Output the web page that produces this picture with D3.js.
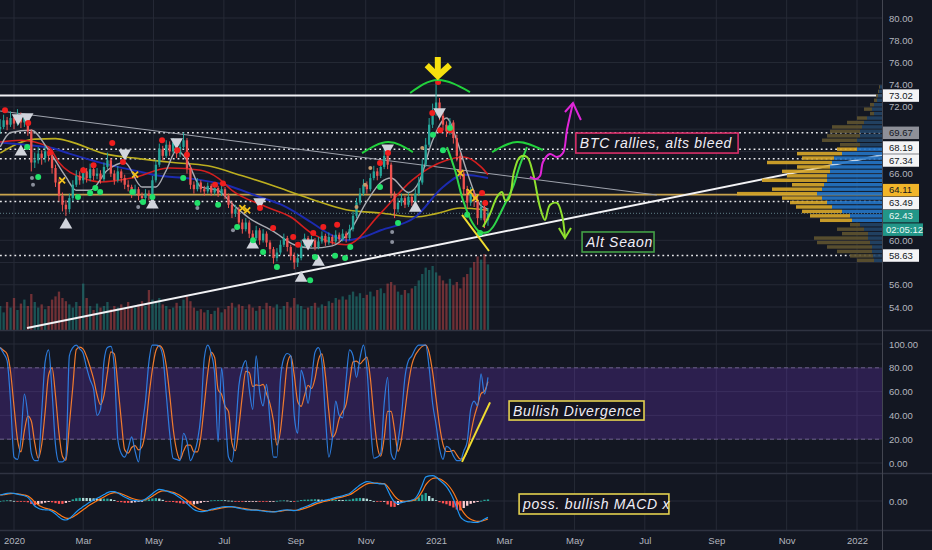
<!DOCTYPE html>
<html><head><meta charset="utf-8">
<script src="https://cdn.jsdelivr.net/npm/d3@7"></script>
<style>
html,body{margin:0;padding:0;background:#131722;overflow:hidden}
svg{display:block}
text{font-family:"Liberation Sans",Arial,sans-serif}
</style></head><body>
<svg id="c" width="932" height="550"></svg>
<script>
// ---------------- DATA ----------------
const startDate = "2019-12-20";
const barStepDays = 3;
const firstOpen = 70.0;
const closes = [70.2,70.8,70.4,71.0,70.5,71.2,70.6,71.0,69.8,67.0,
 67.2,67.8,67.4,68.0,67.6,66.5,65.2,64.0,63.2,62.8,
 63.8,65.0,65.8,65.4,66.2,65.6,66.4,65.8,66.0,65.5,
 66.6,67.2,66.0,65.4,66.2,65.6,65.0,64.8,64.2,64.6,
 64.0,63.8,64.2,64.0,65.4,66.8,68.2,67.6,68.6,68.0,
 68.8,67.8,68.4,69.0,66.5,65.0,64.6,65.2,64.6,64.4,
 64.9,64.3,64.7,64.2,64.6,64.0,63.2,62.4,62.8,61.6,
 61.0,61.6,60.6,60.2,60.9,60.0,60.6,59.8,59.2,58.4,
 58.9,59.6,60.2,59.4,58.6,58.0,58.4,59.6,60.2,59.6,
 60.0,59.4,59.9,60.4,59.8,60.3,59.9,60.5,60.1,60.6,
 60.2,61.0,62.2,63.4,64.2,65.0,64.6,65.6,66.2,65.8,
 66.6,67.6,66.8,64.2,62.8,63.4,63.8,63.2,63.9,63.4,
 64.2,65.2,66.8,68.6,70.4,71.6,72.4,71.2,70.4,69.8,
 70.6,69.2,67.6,66.0,64.6,63.4,64.2,63.6,62.0,63.0,
 61.8,62.43];
const highs = [70.9,71.3,71.1,71.6,71.3,71.8,71.5,71.4,71.2,70.0,
 67.9,68.4,68.1,68.5,68.3,67.8,66.8,65.5,64.3,63.6,
 64.2,65.4,66.3,66.2,66.6,66.5,66.9,66.6,66.5,66.3,
 67.0,67.9,67.4,66.3,66.7,66.4,65.9,65.4,65.0,65.0,
 64.8,64.3,64.6,64.5,65.8,67.2,68.7,68.5,69.0,68.9,
 69.2,69.0,68.8,69.7,69.2,66.8,65.3,65.6,65.4,64.9,
 65.2,65.1,65.0,64.9,64.9,64.8,64.2,63.5,63.2,63.0,
 61.9,62.0,61.8,60.9,61.3,61.1,61.0,60.8,60.0,59.4,
 59.3,60.0,60.6,60.4,59.6,58.9,58.8,60.0,60.6,60.4,
 60.4,60.2,60.3,60.8,60.6,60.7,60.5,60.9,60.7,61.0,
 60.8,61.4,62.6,63.8,64.7,65.5,65.3,66.0,66.7,66.5,
 67.1,68.3,67.9,67.0,64.4,63.8,64.2,64.0,64.3,64.1,
 64.6,65.7,67.3,69.2,71.0,72.3,74.2,72.8,71.6,70.7,
 71.0,70.8,69.5,67.9,66.3,64.9,64.8,64.5,63.9,63.5,
 63.2,62.9];
const lows = [69.6,70.0,69.9,70.2,70.0,70.3,70.1,70.2,69.4,66.2,
 66.5,66.9,66.8,67.0,67.1,66.0,64.8,63.5,62.6,62.2,
 62.5,63.5,64.8,65.0,65.1,65.2,65.3,65.4,65.5,65.1,
 65.3,66.4,65.7,65.0,65.2,65.2,64.6,64.4,63.8,64.0,
 63.6,63.3,63.5,63.6,63.8,65.2,66.6,67.2,67.4,67.6,
 67.8,67.4,67.5,68.2,66.0,64.6,64.2,64.4,64.3,64.0,
 64.2,64.0,64.1,63.9,64.0,63.7,62.9,62.0,62.1,61.2,
 60.6,60.8,60.2,59.8,60.0,59.6,59.8,59.4,58.8,57.9,
 58.1,58.7,59.4,59.0,58.2,57.4,57.6,58.2,59.4,59.2,
 59.4,59.1,59.2,59.7,59.5,59.6,59.6,59.7,59.8,59.9,
 59.8,60.0,60.8,62.0,63.2,64.0,64.2,64.4,65.4,65.4,
 65.6,66.4,66.4,63.8,62.0,62.5,63.1,62.9,63.0,63.1,
 63.2,64.0,65.0,66.6,68.4,70.1,71.2,70.8,69.9,69.3,
 69.5,68.7,67.1,65.5,64.1,62.8,63.1,63.0,61.4,61.8,
 61.1,61.3];
const volumes = [30,22,35,28,40,25,33,38,30,45,
 35,28,32,26,30,38,42,48,40,36,
 32,28,35,30,58,40,30,25,33,28,
 30,35,26,30,28,32,26,35,30,28,
 32,36,30,50,38,34,40,32,30,26,
 28,34,30,38,42,36,28,24,26,22,
 25,20,24,28,22,26,30,34,28,32,
 30,26,32,28,24,30,26,34,30,28,
 32,26,30,35,28,40,32,30,26,28,
 30,34,28,32,30,36,34,40,38,42,
 38,44,48,42,46,40,44,48,42,50,
 52,46,58,60,56,48,44,50,46,52,
 55,62,70,78,75,80,72,68,62,58,
 64,56,60,52,66,70,78,85,92,88,
 95,82];
const stochK = [97,92,86,52,5,3,20,58,40,8,
 2,2,42,85,95,60,15,1,1,5,
 90,97,99,96,92,80,70,62,40,45,
 85,97,98,80,20,8,5,12,22,10,
 1,30,52,85,99,99,98,90,58,25,
 4,3,2,25,18,2,8,18,40,88,
 99,92,75,18,80,45,5,1,25,65,
 80,86,62,45,90,60,48,66,35,5,
 5,70,88,92,90,40,25,78,68,50,
 70,93,97,85,40,5,20,52,40,38,
 70,95,90,72,88,99,80,35,4,5,
 8,50,72,8,3,18,40,72,86,90,
 96,99,99,99,80,50,32,12,3,14,
 12,6,2,2,10,18,45,52,48,75,
 58,72];
const macdLine = [0.30,0.34,0.38,0.40,0.38,0.34,0.30,0.26,0.18,-0.02,
 -0.25,-0.36,-0.42,-0.44,-0.45,-0.52,-0.65,-0.80,-0.92,-0.95,
 -0.88,-0.72,-0.55,-0.40,-0.28,-0.16,-0.05,0.05,0.14,0.22,
 0.32,0.42,0.47,0.47,0.40,0.30,0.20,0.12,0.05,0.02,
 0.00,0.02,0.10,0.22,0.36,0.50,0.58,0.56,0.50,0.44,
 0.38,0.28,0.16,0.02,-0.12,-0.28,-0.42,-0.50,-0.53,-0.52,
 -0.48,-0.42,-0.38,-0.34,-0.30,-0.28,-0.28,-0.28,-0.32,-0.36,
 -0.40,-0.43,-0.45,-0.46,-0.46,-0.48,-0.50,-0.53,-0.54,-0.55,
 -0.52,-0.48,-0.45,-0.44,-0.46,-0.48,-0.45,-0.37,-0.30,-0.24,
 -0.16,-0.08,-0.03,0.01,0.04,0.08,0.13,0.18,0.22,0.26,
 0.32,0.38,0.52,0.66,0.80,0.90,0.97,0.95,0.90,0.88,
 0.86,0.85,0.55,0.20,-0.05,-0.12,-0.08,-0.04,0.00,0.05,
 0.13,0.40,0.80,1.20,1.26,1.27,1.20,1.05,0.90,0.72,
 0.45,0.10,-0.35,-0.78,-0.95,-1.03,-1.05,-1.07,-1.07,-1.00,
 -0.90,-0.82];

// moving averages: [bar index, value]
const maYellow = [[0,67.85],[10,69.1],[16,69.15],[20,68.9],[30,67.8],[40,67.35],[50,67.0],[60,66.7],[70,65.8],[80,64.8],[90,63.7],[100,62.75],[110,62.45],[120,62.1],[126,62.4],[133,62.9],[141,62.7]];
const maBlue = [[0,68.8],[10,68.5],[15,68.3],[20,67.8],[30,66.9],[40,66.2],[45,65.85],[55,65.55],[65,65.0],[75,63.9],[82,63.1],[90,61.6],[95,60.6],[100,60.0],[105,60.3],[110,60.9],[120,62.1],[128,64.8],[134,65.9],[141,65.6]];
const maRed = [[0,68.85],[6,69.0],[14,68.4],[17,67.0],[24,65.6],[29,65.25],[38,65.6],[49,66.5],[58,66.3],[63,65.6],[67,64.5],[77,63.0],[84,62.1],[90,60.65],[100,59.6],[110,62.45],[119,65.4],[129,67.2],[134,67.5],[139,66.6],[141,65.9]];
const maGray = [[0,68.4],[3,69.7],[9,69.9],[14,68.1],[19,65.7],[22,64.5],[26,64.5],[31,66.3],[36,67.0],[41,64.8],[45,64.8],[48,66.3],[51,68.1],[54,67.2],[58,64.8],[63,64.5],[67,63.3],[72,62.0],[79,60.8],[85,59.6],[90,59.3],[96,59.5],[101,60.8],[106,63.5],[110,65.2],[113,65.6],[118,64.3],[121,65.2],[125,69.0],[129,71.0],[132,69.0],[135,66.1],[139,63.1],[141,62.8]];

// levels
const levelTop = 73.02;
const levelsDotted = [69.67, 68.19, 67.34, 63.49, 58.63];
const levelPOC = 64.11;
const lastPrice = 62.43;
const countdown = "02:05:12";
const priceTicks = [54,56,58,60,62,64,66,68,70,72,74,76,78,80];
const stochTicks = [0,20,40,60,80,100];
const macdTicks = [0];

// trend lines [bar index, price]
const trendGray = [[0,71.63],[189.8,64.08]];
const trendWhite = [[7.76,52.11],[254.9,67.67]];

// volume profile
const profilePrices = [58.2,58.6,59.0,59.4,59.8,60.2,60.6,61.0,61.4,61.8,62.2,62.6,63.0,63.4,63.8,64.2,64.6,65.0,65.4,65.8,66.2,66.6,67.0,67.4,67.8,68.2,68.6,69.0,69.4,69.8,70.2,70.6,71.0,71.4,71.8,72.2,72.6,73.0,73.4,73.8];
const profileTotal = [25,32,45,55,65,68,40,45,32,62,72,80,86,92,100,145,110,90,120,95,100,85,115,80,85,45,42,60,55,52,50,35,25,12,18,12,8,6,4,3];
const profileBlue = [8,9,10,10,12,14,14,18,22,30,32,40,50,55,60,65,60,58,55,55,52,52,50,48,40,25,22,25,22,22,20,18,15,8,10,8,5,4,3,2];
const valueArea = [61.8, 68.2];

// signal markers [bar index, price]
const triDown = [[5.2,71.0],[7.8,71.1],[36,67.85],[51,68.85],[75,63.45],[89,59.75],[112,68.3],[127,71.55]];
const triUp = [[6,67.95],[19,61.4],[44,63.2],[73,59.6],[87,56.6],[92,58.05],[120,62.9]];
const redDots = [[1.4,71.7],[8.1,70.55],[14.5,67.9],[24,66.3],[27,66.75],[32.4,68.75],[35.5,67.05],[46.8,69.0],[51.2,68.1],[54,67.7],[62.1,65.0],[64.4,65.1],[75.1,62.9],[78.9,61.1],[84.7,60.3],[86.1,59.6],[90.5,60.65],[93.4,61.2],[97.4,61.4],[109.8,66.95],[112.1,67.85],[124.9,71.45],[126.6,74.25],[127.2,69.9],[130,69.9],[139.3,64.25],[140.2,63.35]];
const greenDots = [[7.8,68.4],[11,65.7],[22.5,63.9],[26,64.25],[27.5,64.7],[28.9,64.35],[38.2,64.35],[41.3,63.45],[44,63.9],[52.9,65.6],[57,63.35],[63,63.2],[68.5,61.2],[73.1,60.0],[76,58.95],[80,57.6],[89.6,56.4],[91,58.5],[96.8,58.6],[99.7,58.4],[101.2,59.4],[109.8,64.8],[115,61.55],[125.1,69.5],[128,68.1],[130,70.1],[135,62.3],[138.7,60.65]];
const yellowX = [[17.9,65.4],[39,65.9],[70,62.9],[71.4,62.7],[133,66.05],[135.8,64.35],[137.3,63.8]];
const grayDots = [[9.2,65.6],[9.5,65.0],[39.9,63.0],[57,62.9],[67.3,60.9],[113.3,60.75],[113.3,59.85]];
const tanDots = [[103,63.0],[105.5,65.0],[107,66.5],[122,68.3]];

// drawings [bar index, price]
const arcTop = [[118.5,73.25],[126.5,74.42],[135.8,73.34]];
const arcNov = [[104.6,67.85],[112.1,68.84],[119.3,67.94]];
const arcRight = [[142.2,67.94],[149.4,68.84],[156.9,68.12]];
const arrowShaft = [[126.5,76.49],[126.5,75.0]];
const arrowHead = [[123.3,75.77],[126.5,74.78],[130.0,75.77]];
const yellowDiag = [[133.5,62.28],[141.3,59.04]];
const stochDiag = [[133.5,1],[141.6,51]];
const bowlPath = [[129.15,68.39],[131.46,66.32],[133.77,63.63],[136.37,61.65],[138.68,60.75],[141.0,60.75],[142.44,61.2],[145.33,62.91],[148.22,64.8],[150.25,66.77],[152.27,68.39]];
const wavyPath = [[139.55,61.2],[141.57,62.37],[143.6,63.9],[145.04,64.35],[145.91,63.63],[146.78,63.63],[147.64,64.35],[148.51,66.14],[150.25,67.49],[152.27,67.49],[154.0,66.05],[156.02,63.0],[157.47,61.83],[158.91,63.18],[160.94,63.36],[162.38,62.28],[163.25,60.3]];
const wavyHead = [[161.5,61.11],[163.25,60.21],[165.0,61.11]];
const magentaPath = [[153.13,65.7],[154.87,65.52],[156.03,65.79],[156.9,67.04],[158.91,67.76],[160.94,67.49],[162.67,67.85],[163.83,69.92],[165.57,72.35]];
const magentaHead = [[163.25,71.54],[165.57,72.35],[167.87,70.82]];

// notes
const noteBTC = {text:"BTC rallies, alts bleed", i0:166.4, i1:213.3, v0:69.65, v1:67.85, color:"#d92f6a"};
const noteAlt = {text:"Alt Seaon", i0:168.2, i1:189.0, v0:60.75, v1:58.95, color:"#43a047"};
const noteDiv = {text:"Bullish Divergence", i0:147.1, i1:186.1, v0:52.1, v1:36.1, color:"#e3d04f"};
const noteMacd = {text:"poss. bullish MACD x", i0:150.0, i1:193.3, v0:0.35, v1:-0.65, color:"#e3d04f"};

// ---------------- SETUP ----------------
const svg = d3.select("#c");
const W = 932, H = 550, AX = 882;
const parse = d3.utcParse("%Y-%m-%d");
const t0 = parse(startDate);
const DAY = 864e5;
const barDate = i => new Date(t0.getTime() + i*barStepDays*DAY);
const x = d3.scaleUtc().domain([parse("2020-01-01"), parse("2022-01-01")]).range([14, 857]);
const bx = i => x(barDate(i));
const yP = d3.scaleLinear().domain([54,80]).range([307,18]);
const yVol = d3.scaleLinear().domain([0,100]).range([330,250]);
const yS = d3.scaleLinear().domain([0,100]).range([463,344]);
const yM = d3.scaleLinear().domain([-1.45,1.35]).range([530,474]);
const pw = d3.scaleLinear().domain([0,100]).range([0,100]);

const bg = "#131722", gridC = "#262a36", txtC = "#b2b5be";
svg.append("rect").attr("width",W).attr("height",H).attr("fill",bg);

const defs = svg.append("defs");
defs.append("clipPath").attr("id","cm").append("rect").attr("x",0).attr("y",0).attr("width",AX).attr("height",330);
defs.append("clipPath").attr("id","cs").append("rect").attr("x",0).attr("y",331).attr("width",AX).attr("height",142);
defs.append("clipPath").attr("id","cc").append("rect").attr("x",0).attr("y",474).attr("width",AX).attr("height",56);

// grid
const xTicks = x.ticks(d3.utcMonth.every(2));
const grid = svg.append("g");
grid.selectAll("line.v").data(xTicks).join("line")
  .attr("x1",d=>x(d)).attr("x2",d=>x(d)).attr("y1",0).attr("y2",530)
  .attr("stroke",gridC).attr("stroke-width",1);
grid.selectAll("line.hp").data(priceTicks).join("line").attr("class","hp")
  .attr("x1",0).attr("x2",AX).attr("y1",d=>yP(d)).attr("y2",d=>yP(d)).attr("stroke",gridC);
grid.selectAll("line.hs").data(stochTicks).join("line").attr("class","hs")
  .attr("x1",0).attr("x2",AX).attr("y1",d=>yS(d)).attr("y2",d=>yS(d)).attr("stroke",gridC);
grid.selectAll("line.hm").data(macdTicks).join("line").attr("class","hm")
  .attr("x1",0).attr("x2",AX).attr("y1",d=>yM(d)).attr("y2",d=>yM(d)).attr("stroke",gridC);

// ---------------- MAIN PANE ----------------
const bars = closes.map((c,i)=>({i, o: i===0?firstOpen:closes[i-1], c, h:highs[i], l:lows[i], v:volumes[i]}));
const m = svg.append("g").attr("clip-path","url(#cm)");
const bw = 2.3;

m.selectAll("rect.vol").data(bars).join("rect").attr("class","vol")
  .attr("x",d=>bx(d.i)-bw/2).attr("width",bw)
  .attr("y",d=>yVol(d.v)).attr("height",d=>yVol(0)-yVol(d.v))
  .attr("fill",d=>d.c>=d.o?"rgba(38,166,154,0.42)":"rgba(239,83,80,0.42)");

const line = d3.line().x(d=>bx(d[0])).y(d=>yP(d[1]));
m.append("line").attr("x1",0).attr("x2",AX).attr("y1",yP(levelPOC)).attr("y2",yP(levelPOC))
  .attr("stroke","#c9a44c").attr("stroke-width",1.6);
m.selectAll("line.dot").data(levelsDotted).join("line").attr("class","dot")
  .attr("x1",0).attr("x2",AX).attr("y1",d=>yP(d)).attr("y2",d=>yP(d))
  .attr("stroke","#e8e8ec").attr("stroke-width",1.6).attr("stroke-dasharray","1.8,3");
m.append("line").attr("x1",0).attr("x2",AX).attr("y1",yP(lastPrice)).attr("y2",yP(lastPrice))
  .attr("stroke","#5f7f88").attr("stroke-width",1).attr("stroke-dasharray","1,2");
m.append("line").attr("x1",0).attr("x2",AX).attr("y1",yP(levelTop)).attr("y2",yP(levelTop))
  .attr("stroke","#f0f0f3").attr("stroke-width",2);

m.append("path").attr("d",line(trendGray)).attr("stroke","#9fa3ad").attr("stroke-width",1.1).attr("fill","none");
m.append("path").attr("d",line(trendWhite)).attr("stroke","#f2f2f5").attr("stroke-width",2).attr("fill","none");

const maLine = d3.line().x(d=>bx(d[0])).y(d=>yP(d[1])).curve(d3.curveMonotoneX);
[[maYellow,"#bcae1f",1.6],[maBlue,"#1c2bb0",2],[maRed,"#d31f1f",1.6],[maGray,"#a9abb2",1.4]].forEach(([d,c,w])=>{
  m.append("path").attr("d",maLine(d)).attr("stroke",c).attr("stroke-width",w).attr("fill","none");
});

const up="#26a69a", dn="#ef5350";
m.selectAll("line.wick").data(bars).join("line").attr("class","wick")
  .attr("x1",d=>bx(d.i)).attr("x2",d=>bx(d.i)).attr("y1",d=>yP(d.h)).attr("y2",d=>yP(d.l))
  .attr("stroke",d=>d.c>=d.o?up:dn).attr("stroke-width",1);
m.selectAll("rect.body").data(bars).join("rect").attr("class","body")
  .attr("x",d=>bx(d.i)-bw/2).attr("width",bw)
  .attr("y",d=>yP(Math.max(d.o,d.c))).attr("height",d=>Math.max(1,Math.abs(yP(d.o)-yP(d.c))))
  .attr("fill",d=>d.c>=d.o?up:dn);

const tri = d3.symbol(d3.symbolTriangle, 70);
m.selectAll("path.tu").data(triUp).join("path").attr("class","tu").attr("d",tri)
  .attr("transform",d=>`translate(${bx(d[0])},${yP(d[1])})`).attr("fill","#d1d4dc");
m.selectAll("path.td").data(triDown).join("path").attr("class","td").attr("d",tri)
  .attr("transform",d=>`translate(${bx(d[0])},${yP(d[1])}) rotate(180)`).attr("fill","#d1d4dc");
m.selectAll("circle.gd").data(grayDots).join("circle").attr("class","gd")
  .attr("cx",d=>bx(d[0])).attr("cy",d=>yP(d[1])).attr("r",2).attr("fill","#8a8f9c");
m.selectAll("circle.td2").data(tanDots).join("circle").attr("class","td2")
  .attr("cx",d=>bx(d[0])).attr("cy",d=>yP(d[1])).attr("r",2).attr("fill","#c49a6c");
m.selectAll("circle.rd").data(redDots).join("circle").attr("class","rd")
  .attr("cx",d=>bx(d[0])).attr("cy",d=>yP(d[1])).attr("r",3).attr("fill","#f01e1e");
m.selectAll("circle.grd").data(greenDots).join("circle").attr("class","grd")
  .attr("cx",d=>bx(d[0])).attr("cy",d=>yP(d[1])).attr("r",3).attr("fill","#22e06a");
const yx = m.selectAll("g.yx").data(yellowX).join("g").attr("class","yx")
  .attr("transform",d=>`translate(${bx(d[0])},${yP(d[1])})`);
yx.append("path").attr("d","M-3,-3L3,3M-3,3L3,-3").attr("stroke","#f2c21b").attr("stroke-width",1.8);

// volume profile
const rowH = Math.abs(yP(0.4)-yP(0))*0.78;
const prof = m.append("g").attr("opacity",0.92);
profilePrices.forEach((p,k)=>{
  const inVA = p>=valueArea[0] && p<=valueArea[1];
  const tw = pw(profileTotal[k]), bwid = pw(profileBlue[k]);
  prof.append("rect").attr("x",AX-tw).attr("width",tw-bwid).attr("y",yP(p)-rowH/2).attr("height",rowH)
    .attr("fill",inVA?"#d6a62a":"#5d5230");
  prof.append("rect").attr("x",AX-bwid).attr("width",bwid).attr("y",yP(p)-rowH/2).attr("height",rowH)
    .attr("fill",inVA?"#2474c4":"#234466");
});

// drawings
const smooth = d3.line().x(d=>bx(d[0])).y(d=>yP(d[1])).curve(d3.curveNatural);
const straight = d3.line().x(d=>bx(d[0])).y(d=>yP(d[1]));
[arcTop,arcNov,arcRight].forEach(a=>m.append("path").attr("d",smooth(a)).attr("stroke","#22d13c").attr("stroke-width",2).attr("fill","none"));
m.append("path").attr("d",straight(arrowShaft)).attr("stroke","#f7e00e").attr("stroke-width",6).attr("fill","none");
m.append("path").attr("d",straight(arrowHead)).attr("stroke","#f7e00e").attr("stroke-width",6).attr("stroke-linejoin","miter").attr("fill","none");
m.append("path").attr("d",straight(yellowDiag)).attr("stroke","#f0dc30").attr("stroke-width",2).attr("fill","none");
const cr = d3.line().x(d=>bx(d[0])).y(d=>yP(d[1])).curve(d3.curveCatmullRom);
m.append("path").attr("d",cr(bowlPath)).attr("stroke","#2fd64a").attr("stroke-width",2).attr("fill","none");
m.append("path").attr("d",cr(wavyPath)).attr("stroke","#8fe02e").attr("stroke-width",2).attr("fill","none");
m.append("path").attr("d",straight(wavyHead)).attr("stroke","#8fe02e").attr("stroke-width",2).attr("fill","none");
m.append("path").attr("d",cr(magentaPath)).attr("stroke","#e026d8").attr("stroke-width",2).attr("fill","none");
m.append("path").attr("d",straight(magentaHead)).attr("stroke","#e026d8").attr("stroke-width",2).attr("fill","none");

function note(g, n, ys){
  const x0=bx(n.i0), x1=bx(n.i1), y0=ys(n.v0), y1=ys(n.v1);
  g.append("rect").attr("x",x0).attr("y",y0).attr("width",x1-x0).attr("height",y1-y0)
    .attr("fill","#14141f").attr("stroke",n.color).attr("stroke-width",1.6);
  g.append("text").attr("x",x0+4).attr("y",(y0+y1)/2).attr("dy","0.36em")
    .attr("fill","#f0eef6").attr("font-size",14).attr("font-style","italic").attr("letter-spacing",0.7)
    .text(n.text);
}
note(m, noteBTC, yP);
note(m, noteAlt, yP);

// ---------------- STOCH RSI ----------------
const s = svg.append("g").attr("clip-path","url(#cs)");
s.append("rect").attr("x",0).attr("width",AX).attr("y",yS(80)).attr("height",yS(20)-yS(80)).attr("fill","rgba(126,58,220,0.24)");
[80,20].forEach(v=>s.append("line").attr("x1",0).attr("x2",AX).attr("y1",yS(v)).attr("y2",yS(v))
  .attr("stroke","#6b5f8a").attr("stroke-dasharray","4,3").attr("stroke-width",1));
const stochD = stochK.map((v,i)=> d3.mean(stochK.slice(Math.max(0,i-2), i+1)));
const sl = d3.line().x((d,i)=>bx(i)).y(d=>yS(d)).curve(d3.curveMonotoneX);
s.append("path").attr("d",sl(stochD)).attr("stroke","#f07a2e").attr("stroke-width",1.2).attr("fill","none");
s.append("path").attr("d",sl(stochK)).attr("stroke","#2f86f0").attr("stroke-width",1.2).attr("fill","none").attr("opacity",0.9);
s.append("path").attr("d",d3.line().x(d=>bx(d[0])).y(d=>yS(d[1]))(stochDiag)).attr("stroke","#f0dc30").attr("stroke-width",2).attr("fill","none");
note(s, noteDiv, yS);

// ---------------- MACD ----------------
const c = svg.append("g").attr("clip-path","url(#cc)");
const signal = [];
macdLine.forEach((v,i)=>{ signal.push(i===0? v : signal[i-1] + 0.45*(v - signal[i-1])); });
const hist = macdLine.map((v,i)=>v-signal[i]);
c.selectAll("rect.h").data(hist).join("rect").attr("class","h")
  .attr("x",(d,i)=>bx(i)-bw/2).attr("width",bw)
  .attr("y",d=>Math.min(yM(d),yM(0))).attr("height",d=>Math.max(0.8,Math.abs(yM(d)-yM(0))))
  .attr("fill",(d,i)=>{
    const prev = i>0?hist[i-1]:d;
    if(d>=0) return d>=prev?"#26a69a":"#b2dfdb";
    return d<prev?"#ff5252":"#ffcdd2";
  });
const ml = d3.line().x((d,i)=>bx(i)).y(d=>yM(d)).curve(d3.curveMonotoneX);
c.append("path").attr("d",ml(signal)).attr("stroke","#ff7a1a").attr("stroke-width",1.2).attr("fill","none");
c.append("path").attr("d",ml(macdLine)).attr("stroke","#2196f3").attr("stroke-width",1.2).attr("fill","none");
note(c, noteMacd, yM);

// ---------------- SEPARATORS & AXES ----------------
[330.5,473.5,530.5].forEach(y=>svg.append("line").attr("x1",0).attr("x2",W).attr("y1",y).attr("y2",y).attr("stroke","#2f3341").attr("stroke-width",1.5));
svg.append("line").attr("x1",AX+0.5).attr("x2",AX+0.5).attr("y1",0).attr("y2",H).attr("stroke","#434651");

// price label boxes, spread apart so they do not overlap (as the platform does)
const BH = 12.5;
const boxes = [
  {v:levelTop, bg:"#f4f4f6", fg:"#131722"},
  {v:levelsDotted[0], bg:"#8e9099", fg:"#131722"},
  {v:levelsDotted[1], bg:"#f4f4f6", fg:"#131722"},
  {v:levelsDotted[2], bg:"#f4f4f6", fg:"#131722"},
  {v:levelPOC, bg:"#f1b52a", fg:"#131722"},
  {v:levelsDotted[3], bg:"#f4f4f6", fg:"#131722"},
  {v:lastPrice, bg:"#229688", fg:"#eaf6f4", last:true},
  {v:levelsDotted[4], bg:"#f4f4f6", fg:"#131722"}
];
boxes.forEach(b=>{ b.h = b.last? BH*2+1 : BH; b.cy = yP(b.v) + (b.last? (BH+1)/2 : 0); });
boxes.sort((a,b)=>a.cy-b.cy);
for(let it=0; it<80; it++){
  for(let k=0;k<boxes.length-1;k++){
    const a=boxes[k], b=boxes[k+1];
    const need=(a.h+b.h)/2+0.5, d=b.cy-a.cy;
    if(d<need){ const sh=(need-d)/2; a.cy-=sh; b.cy+=sh; }
  }
}
const occupied = boxes.map(b=>[b.cy-b.h/2, b.cy+b.h/2]);
const freeTick = yy => !occupied.some(([a,b])=> yy+3.5 > a && yy-3.5 < b);

function rightAxis(scale, ticks){
  const g = svg.append("g").attr("transform",`translate(${AX},0)`)
    .call(d3.axisRight(scale).tickValues(ticks).tickFormat(d3.format(".2f")).tickSize(0).tickPadding(7));
  g.select(".domain").remove();
  g.selectAll("text").attr("fill",txtC).attr("font-size",9.5).attr("font-family","Liberation Sans, Arial, sans-serif");
  return g;
}
rightAxis(yP, priceTicks.filter(t=>freeTick(yP(t))));
rightAxis(yS, stochTicks);
rightAxis(yM, macdTicks);

const xa = svg.append("g").attr("transform","translate(0,531)")
  .call(d3.axisBottom(x).tickValues(xTicks).tickSize(0).tickPadding(6)
    .tickFormat(d=> d.getUTCMonth()===0 ? d3.utcFormat("%Y")(d) : d3.utcFormat("%b")(d)));
xa.select(".domain").remove();
xa.selectAll("text").attr("fill",txtC).attr("font-size",9.5).attr("font-family","Liberation Sans, Arial, sans-serif");

const bl = svg.append("g");
boxes.forEach(b=>{
  const top = b.cy - b.h/2;
  bl.append("rect").attr("x",AX+1).attr("y",top).attr("width",36).attr("height",BH).attr("fill",b.bg);
  bl.append("text").attr("x",AX+7).attr("y",top+BH/2).attr("dy","0.35em").attr("fill",b.fg).attr("font-size",9.5).text(d3.format(".2f")(b.v));
  if(b.last){
    bl.append("rect").attr("x",AX+1).attr("y",top+BH+1).attr("width",40).attr("height",BH).attr("fill","#229688");
    bl.append("text").attr("x",AX+4).attr("y",top+BH+1+BH/2).attr("dy","0.35em").attr("fill","#eaf6f4").attr("font-size",9.5).text(countdown);
  }
});
</script>
</body></html>
